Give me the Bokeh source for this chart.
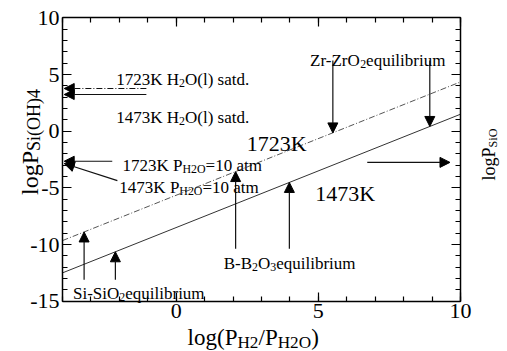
from bokeh.plotting import figure
from bokeh.models import Range1d, FixedTicker, LinearAxis, Label, Arrow, NormalHead
from bokeh.embed import file_html
from bokeh.resources import INLINE

# ---------------- data ----------------
x_line = [-4, 10]
y_1723 = [-9.65, 4.35]
y_1473 = [-12.5, 1.5]

x_lo, x_hi = -4, 10
y_lo, y_hi = -15, 10
x_major = [0, 5, 10]
x_tick_labels = ["0", "5", "10"]
y_major = [-15, -10, -5, 0, 5, 10]
y_tick_labels = ["-15", "-10", "-5", "0", "5", "10"]
x_minor = list(range(-4, 11))
y_minor = list(range(-15, 11))

# arrows: start -> end (data units), dashed flag
arr_x0 = [-1.05, -1.05, -2.25, -2.07, 6.72, 5.51, 8.92, 2.09, 3.98, -3.24, -2.14]
arr_y0 = [3.77, 3.24, -2.65, -4.36, -2.75, 6.24, 6.24, -10.37, -10.37, -13.1, -13.1]
arr_x1 = [-3.94, -3.94, -3.94, -3.94, 9.63, 5.51, 8.92, 2.09, 3.98, -3.24, -2.14]
arr_y1 = [3.77, 3.24, -2.65, -2.85, -2.75, -0.15, 0.42, -3.56, -4.52, -8.89, -10.64]
arr_dash = [True, False, False, False, False, False, False, False, False, False, False]

# annotation texts: segments (text, is_subscript)
ann_segs = [
    [("1723K H", 0), ("2", 1), ("O(l) satd.", 0)],
    [("1473K H", 0), ("2", 1), ("O(l) satd.", 0)],
    [("1723K P", 0), ("H2O", 1), ("=10 atm", 0)],
    [("1473K P", 0), ("H2O", 1), ("=10 atm", 0)],
    [("Zr-ZrO", 0), ("2", 1), ("equilibrium", 0)],
    [("B-B", 0), ("2", 1), ("O", 0), ("3", 1), ("equilibrium", 0)],
    [("Si-SiO", 0), ("2", 1), ("equilibrium", 0)],
    [("1723K", 0)],
    [("1473K", 0)],
]
ann_x = [-2.11, -2.11, -1.89, -2.0, 4.71, 1.67, -3.63, 2.48, 4.89]
ann_y = [4.54, 1.18, -3.03, -5.0, 6.24, -11.7, -14.33, -1.06, -5.47]
ann_size = [17, 17, 17, 17, 17, 17, 17, 22, 22]

FONT = "Liberation Serif"

# Times-like advance widths (per 1000 em)
W = {' ': 250, '(': 333, ')': 333, '-': 333, '.': 250, '/': 278, '=': 564}
W.update({d: 500 for d in "0123456789"})
W.update(dict(zip("ABCDEFGHIJKLMNOPQRSTUVWXYZ",
                  [722, 667, 667, 722, 611, 556, 722, 722, 333, 389, 722, 611, 889,
                   722, 722, 556, 722, 667, 556, 611, 722, 722, 944, 722, 722, 611])))
W.update(dict(zip("abcdefghijklmnopqrstuvwxyz",
                  [444, 500, 444, 500, 444, 333, 500, 500, 278, 278, 500, 278, 778,
                   500, 500, 500, 500, 333, 389, 278, 500, 500, 722, 500, 500, 444])))


def tw(s, size):
    return sum(W.get(c, 500) for c in s) * size / 1000.0


def rich(p, x, y, segs, size, sub=0.7, angle=0.0, drop=0.2, font=FONT):
    adv = 0.0
    for txt, is_sub in segs:
        fs = size * sub if is_sub else size
        d = drop * size if is_sub else 0.0
        if angle == 0:
            xo, yo = adv, -d
        else:
            xo, yo = d, adv
        p.add_layout(Label(x=x, y=y, x_offset=xo, y_offset=yo, text=txt, angle=angle,
                           text_font=font, text_font_size=f"{fs:.1f}px",
                           text_baseline="alphabetic", text_align="left",
                           text_color="black"))
        adv += tw(txt, fs)


# layout: canvas size and where the plotting box sits in it (pixels)
CW, CH = 507, 351
BOX_L, BOX_R, BOX_T, BOX_B = 62.0, 460.0, 17.4, 300.7
sx = (BOX_R - BOX_L) / (x_hi - x_lo)
sy = (BOX_B - BOX_T) / (y_hi - y_lo)
xr = Range1d(x_lo - BOX_L / sx, x_hi + (CW - BOX_R) / sx)
yr = Range1d(y_lo - (CH - BOX_B) / sy, y_hi + BOX_T / sy)

p = figure(width=CW, height=CH, x_range=xr, y_range=yr,
           output_backend="svg", toolbar_location=None,
           x_axis_location=None, y_axis_location=None, min_border=0)
p.xgrid.visible = False
p.ygrid.visible = False
p.outline_line_color = None
p.background_fill_color = "white"
p.border_fill_color = "white"


def mk_axis(loc, bounds, ticks, minor, labels, show):
    ax = LinearAxis(ticker=FixedTicker(ticks=ticks, minor_ticks=minor),
                    fixed_location=loc, bounds=bounds)
    ax.major_tick_in = 9
    ax.major_tick_out = 0
    ax.minor_tick_in = 5
    ax.minor_tick_out = 0
    ax.axis_line_color = "black"
    ax.axis_line_width = 1.5
    ax.major_tick_line_color = "black"
    ax.major_tick_line_width = 1.2
    ax.minor_tick_line_color = "black"
    ax.minor_tick_line_width = 1.2
    ax.major_label_text_font = FONT
    ax.major_label_text_color = "black"
    ax.major_label_standoff = 3
    if show:
        ax.major_label_text_font_size = "22px"
        ax.major_label_overrides = {t: l for t, l in zip(ticks, labels)}
    else:
        ax.major_label_text_font_size = "1px"
        ax.major_label_overrides = {t: "" for t in ticks}
    return ax


p.add_layout(mk_axis(y_lo, (x_lo, x_hi), x_major, x_minor, x_tick_labels, True), "below")
p.add_layout(mk_axis(y_hi, (x_lo, x_hi), x_major, x_minor, x_tick_labels, False), "above")
p.add_layout(mk_axis(x_lo, (y_lo, y_hi), y_major, y_minor, y_tick_labels, True), "left")
p.add_layout(mk_axis(x_hi, (y_lo, y_hi), y_major, y_minor, y_tick_labels, False), "right")

# lines
p.line(x_line, y_1723, line_color="#555555", line_width=1, line_dash="6 2 1 2")
p.line(x_line, y_1473, line_color="#333333", line_width=1)

# arrows
for x0, y0, x1, y1, dsh in zip(arr_x0, arr_y0, arr_x1, arr_y1, arr_dash):
    head = NormalHead(size=10, fill_color="black", line_color="black", line_width=1)
    p.add_layout(Arrow(end=head, x_start=x0, y_start=y0, x_end=x1, y_end=y1,
                       line_color="#111111", line_width=1.2,
                       line_dash="6 2 1 2" if dsh else "solid"))

# annotation texts
for segs, x, y, s in zip(ann_segs, ann_x, ann_y, ann_size):
    rich(p, x, y, segs, s)

# axis titles
rich(p, 0.40, -18.21, [("log(P", 0), ("H2", 1), ("/P", 0), ("H2O", 1), (")", 0)], 23, sub=0.75)
rich(p, -5.155, -5.63, [("logP", 0), ("Si(OH)4", 1)], 24, sub=0.75, angle=1.5707963)
rich(p, 11.006, -4.35, [("logP", 0), ("SiO", 1)], 18, sub=0.68, angle=1.5707963)

open("out.html", "w").write(file_html(p, INLINE))
